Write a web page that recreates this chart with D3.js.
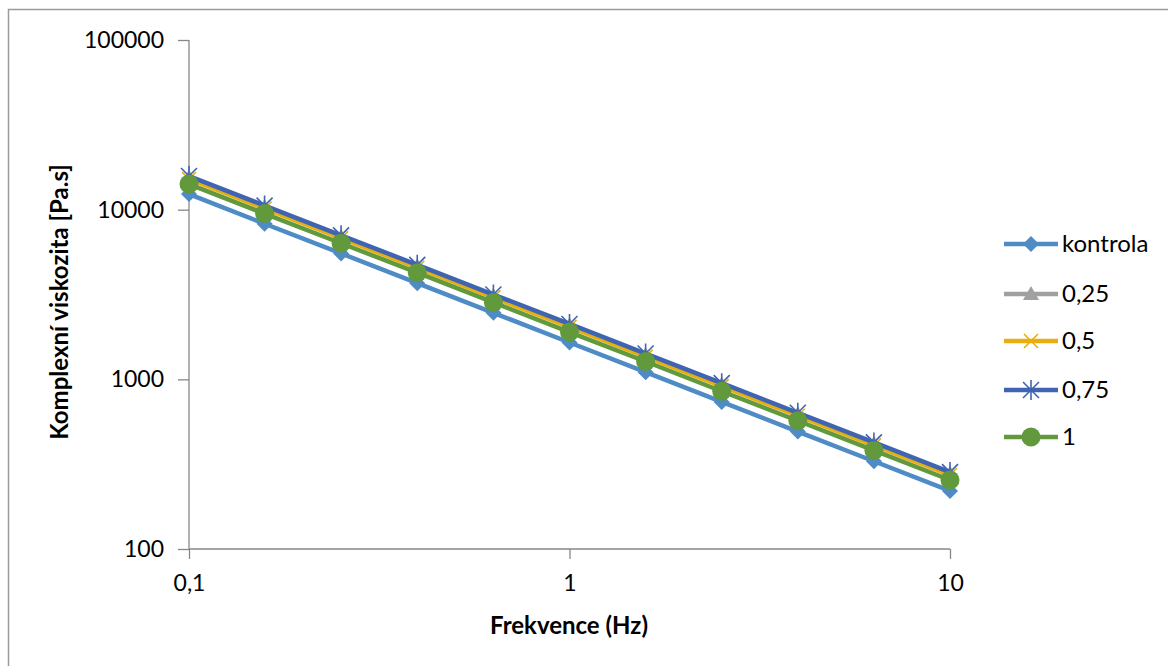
<!DOCTYPE html>
<html>
<head>
<meta charset="utf-8">
<script src="https://cdn.jsdelivr.net/npm/d3@7"></script>
<style>
  body { margin: 0; background: #fff; }
  text { font-family: Lato, "Open Sans", sans-serif; fill: #000; }
</style>
</head>
<body>
<script>
// frequencies (Hz)
var freqs = [0.1, 0.158, 0.251, 0.398, 0.631, 1, 1.585, 2.512, 3.981, 6.31, 10];

// complex viscosity [Pa.s] per sample
var kontrola = [12360, 8260, 5520, 3690, 2466, 1648, 1102, 736, 492, 329, 220];
var c025 = [15490, 10370, 6930, 4640, 3110, 2080, 1393, 932, 624, 417, 279];
var c05 = [15170, 10160, 6790, 4550, 3040, 2037, 1362, 912, 610, 408, 273];
var c075 = [15780, 10570, 7060, 4730, 3160, 2120, 1419, 949, 635, 425, 284];
var c1 = [14160, 9480, 6340, 4250, 2840, 1900, 1274, 851, 570, 381, 255];

var seriesNames = ["kontrola", "0,25", "0,5", "0,75", "1"];
var seriesValues = [kontrola, c025, c05, c075, c1];
var seriesColors = ["#4f8bc5", "#a0a0a0", "#e8ae10", "#3f65b2", "#62993d"];
var seriesMarkers = ["diamond", "triangle", "x", "asterisk", "circle"];

var xTicks = [0.1, 1, 10];
var xTickLabels = ["0,1", "1", "10"];
var yTicks = [100, 1000, 10000, 100000];

var W = 1168, H = 666;
var svg = d3.select("body").append("svg")
    .attr("width", W)
    .attr("height", H);

// outer chart border
svg.append("rect")
    .attr("x", 8.5).attr("y", 9.5)
    .attr("width", 1180).attr("height", 680)
    .attr("fill", "none")
    .attr("stroke", "#9a9a9a")
    .attr("stroke-width", 1.5);

var x = d3.scaleLog().domain([0.1, 10]).range([189, 950]);
var y = d3.scaleLog().domain([100, 100000]).range([549, 40]);

var axisColor = "#878787";

// y axis
var yAxis = svg.append("g").attr("transform", "translate(189,0)")
    .call(d3.axisLeft(y).tickValues(yTicks).tickSize(11).tickPadding(14)
        .tickFormat(function(d) { return String(d); }));
yAxis.select(".domain").remove();
yAxis.selectAll(".tick line").attr("stroke", axisColor).attr("stroke-width", 1.3);
yAxis.selectAll(".tick text")
    .attr("font-size", 23)
    .attr("font-family", "Lato, sans-serif")
    .attr("fill", "#000");
svg.append("line")
    .attr("x1", 189).attr("x2", 189).attr("y1", y(100000)).attr("y2", y(100))
    .attr("stroke", axisColor).attr("stroke-width", 1.3);

// x axis
var xAxis = svg.append("g").attr("transform", "translate(0,549)")
    .call(d3.axisBottom(x).tickValues(xTicks).tickSize(10).tickPadding(16)
        .tickFormat(function(d, i) { return xTickLabels[i]; }));
xAxis.select(".domain").remove();
xAxis.selectAll(".tick line").attr("stroke", axisColor).attr("stroke-width", 1.3);
xAxis.selectAll(".tick text")
    .attr("font-size", 23)
    .attr("font-family", "Lato, sans-serif")
    .attr("fill", "#000");
svg.append("line")
    .attr("x1", x(0.1)).attr("x2", x(10)).attr("y1", 549).attr("y2", 549)
    .attr("stroke", axisColor).attr("stroke-width", 1.3);

// axis titles
svg.append("text")
    .attr("x", 569).attr("y", 634)
    .attr("text-anchor", "middle")
    .attr("font-size", 24).attr("font-weight", "bold")
    .text("Frekvence (Hz)");

svg.append("text")
    .attr("transform", "translate(68,302) rotate(-90)")
    .attr("text-anchor", "middle")
    .attr("font-size", 24).attr("font-weight", "bold")
    .text("Komplexní viskozita [Pa.s]");

function drawMarker(g, type, color, cx, cy) {
    if (type === "diamond") {
        g.append("path")
            .attr("d", "M" + cx + "," + (cy - 8) + "L" + (cx + 8) + "," + cy +
                "L" + cx + "," + (cy + 8) + "L" + (cx - 8) + "," + cy + "Z")
            .attr("fill", color);
    } else if (type === "triangle") {
        g.append("path")
            .attr("d", "M" + cx + "," + (cy - 8) + "L" + (cx + 8) + "," + (cy + 6) +
                "L" + (cx - 8) + "," + (cy + 6) + "Z")
            .attr("fill", color);
    } else if (type === "x") {
        g.append("path")
            .attr("d", "M" + (cx - 7) + "," + (cy - 7) + "L" + (cx + 7) + "," + (cy + 7) +
                "M" + (cx + 7) + "," + (cy - 7) + "L" + (cx - 7) + "," + (cy + 7))
            .attr("stroke", color).attr("stroke-width", 1.6).attr("fill", "none");
    } else if (type === "asterisk") {
        g.append("path")
            .attr("d", "M" + (cx - 8) + "," + (cy - 8) + "L" + (cx + 8) + "," + (cy + 8) +
                "M" + (cx + 8) + "," + (cy - 8) + "L" + (cx - 8) + "," + (cy + 8) +
                "M" + cx + "," + (cy - 10) + "L" + cx + "," + (cy + 10))
            .attr("stroke", color).attr("stroke-width", 1.6).attr("fill", "none");
    } else if (type === "circle") {
        g.append("circle")
            .attr("cx", cx).attr("cy", cy).attr("r", 9.5)
            .attr("fill", color);
    }
}

var line = d3.line()
    .x(function(d) { return x(d.f); })
    .y(function(d) { return y(d.v); });

// series
seriesValues.forEach(function(vals, s) {
    var pts = vals.map(function(v, i) { return { f: freqs[i], v: v }; });
    var g = svg.append("g");
    g.append("path")
        .datum(pts)
        .attr("d", line)
        .attr("fill", "none")
        .attr("stroke", seriesColors[s])
        .attr("stroke-width", 4.5)
        .attr("stroke-linejoin", "round");
    pts.forEach(function(p) {
        drawMarker(g, seriesMarkers[s], seriesColors[s], x(p.f), y(p.v));
    });
});

// legend
var legendY = [244, 294, 341, 390, 437];
seriesNames.forEach(function(name, s) {
    var g = svg.append("g");
    var ly = legendY[s];
    g.append("line")
        .attr("x1", 1004).attr("x2", 1058).attr("y1", ly).attr("y2", ly)
        .attr("stroke", seriesColors[s]).attr("stroke-width", 4.5);
    drawMarker(g, seriesMarkers[s], seriesColors[s], 1031, ly);
    g.append("text")
        .attr("x", 1062).attr("y", ly + 8)
        .attr("font-size", 24)
        .text(name);
});
</script>
</body>
</html>
